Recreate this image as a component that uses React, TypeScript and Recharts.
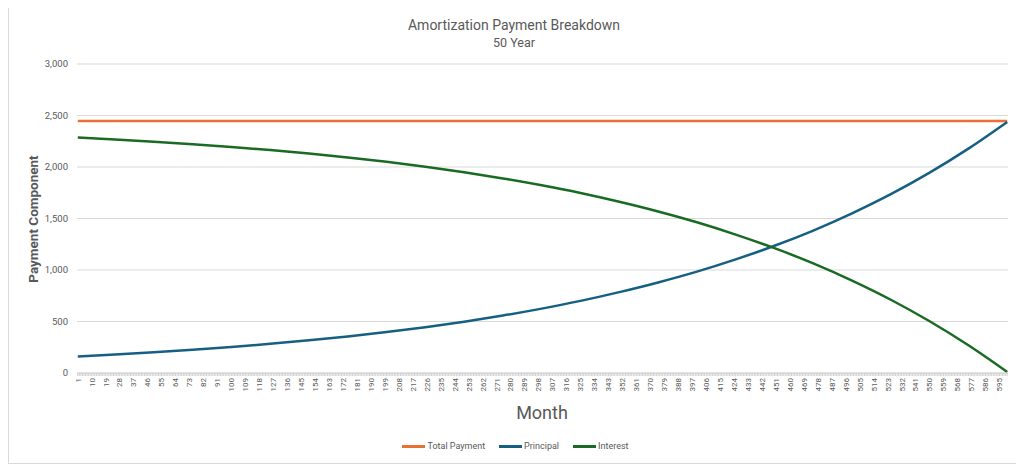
import { CartesianGrid, Line, LineChart, XAxis, YAxis } from "recharts";

// months, with the values read at each of them
const months = [1, 25, 50, 75, 100, 125, 150, 175, 200, 225, 250, 275, 300, 325, 350, 375, 400, 425, 450, 475, 500, 525, 550, 575, 600];
const totalPayment = [2447, 2447, 2447, 2447, 2447, 2447, 2447, 2447, 2447, 2447, 2447, 2447, 2447, 2447, 2447, 2447, 2447, 2447, 2447, 2447, 2447, 2447, 2447, 2447, 2447];
const principal = [161, 180, 201, 225, 252, 283, 317, 355, 397, 445, 498, 558, 625, 700, 785, 879, 984, 1103, 1235, 1383, 1550, 1736, 1945, 2178, 2437];
const interest = [2286, 2267, 2246, 2222, 2195, 2164, 2130, 2092, 2050, 2002, 1949, 1889, 1822, 1747, 1662, 1568, 1463, 1344, 1212, 1064, 897, 711, 502, 269, 10];

const monthLabels = [
  1, 10, 19, 28, 37, 46, 55, 64, 73, 82, 91, 100, 109, 118, 127, 136, 145, 154, 163, 172, 181, 190,
  199, 208, 217, 226, 235, 244, 253, 262, 271, 280, 289, 298, 307, 316, 325, 334, 343, 352, 361, 370,
  379, 388, 397, 406, 415, 424, 433, 442, 451, 460, 469, 478, 487, 496, 505, 514, 523, 532, 541, 550,
  559, 568, 577, 586, 595,
];
const yTicks = [0, 500, 1000, 1500, 2000, 2500, 3000];

const series = [
  { key: "total", name: "Total Payment", color: "#E97132" },
  { key: "principal", name: "Principal", color: "#156082" },
  { key: "interest", name: "Interest", color: "#196B24" },
];

const data = months.map((m, i) => ({
  month: m,
  total: totalPayment[i],
  principal: principal[i],
  interest: interest[i],
}));

// one tick mark per month like the category axis, labels only every 9th
const monthTicks = Array.from({ length: 600 }, (_, i) => i + 1);
const labelSet = new Set(monthLabels);

const FONT = "Roboto, 'Noto Sans', sans-serif";
const GREY = "#595959";

function MonthTick(props: any) {
  const { x, y, payload } = props;
  if (!labelSet.has(payload.value)) return null;
  return (
    <text
      x={x}
      y={y}
      dy="0.35em"
      textAnchor="end"
      transform={`rotate(-90, ${x}, ${y})`}
      fontSize={8}
      fill={GREY}
      fontFamily={FONT}
    >
      {payload.value}
    </text>
  );
}

export default function App() {
  return (
    <div
      style={{
        position: "relative",
        width: 1010,
        height: 456,
        marginTop: -2,
        border: "1px solid #d9d9d9",
        fontFamily: FONT,
        color: GREY,
        background: "#fff",
      }}
    >
      <div style={{ position: "absolute", top: 10, left: 0, width: 1010, textAlign: "center", fontSize: 14, lineHeight: "16px" }}>
        Amortization Payment Breakdown
      </div>
      <div style={{ position: "absolute", top: 28, left: 0, width: 1010, textAlign: "center", fontSize: 12.5, lineHeight: "15px" }}>
        50 Year
      </div>

      <LineChart
        width={1010}
        height={456}
        data={data}
        margin={{ top: 57, right: 11, left: 8, bottom: 60 }}
      >
        <CartesianGrid vertical={false} stroke="#d9d9d9" />
        <XAxis
          dataKey="month"
          type="number"
          domain={[0.5, 600.5]}
          ticks={monthTicks}
          interval={0}
          height={30}
          tick={<MonthTick />}
          tickSize={3}
          tickMargin={2}
          stroke="#d9d9d9"
          tickLine={{ stroke: "#d0d0d0" }}
        />
        <YAxis
          domain={[0, 3000]}
          ticks={yTicks}
          width={60}
          axisLine={false}
          tickLine={false}
          tickMargin={3}
          tick={{ fontSize: 9.5, fill: GREY, fontFamily: FONT }}
          tickFormatter={(v) => v.toLocaleString("en-US")}
        />
        {series.map((s) => (
          <Line
            key={s.key}
            dataKey={s.key}
            name={s.name}
            type="monotone"
            stroke={s.color}
            strokeWidth={2.5}
            dot={false}
            isAnimationActive={false}
          />
        ))}
      </LineChart>

      <div
        style={{
          position: "absolute",
          left: 24,
          top: 212,
          transform: "translate(-50%, -50%) rotate(-90deg)",
          fontSize: 13.5,
          fontWeight: 700,
          whiteSpace: "nowrap",
        }}
      >
        Payment Component
      </div>
      <div
        style={{
          position: "absolute",
          left: 533,
          top: 405,
          transform: "translate(-50%, -50%)",
          fontSize: 18,
          whiteSpace: "nowrap",
        }}
      >
        Month
      </div>

      <div
        style={{
          position: "absolute",
          left: 0,
          top: 433,
          width: 1013,
          display: "flex",
          justifyContent: "center",
          gap: 14,
          fontSize: 9,
          lineHeight: "13px",
        }}
      >
        {series.map((s) => (
          <div key={s.key} style={{ display: "flex", alignItems: "center", gap: 2 }}>
            <span style={{ display: "inline-block", width: 23, height: 2.5, background: s.color }} />
            <span>{s.name}</span>
          </div>
        ))}
      </div>
    </div>
  );
}
